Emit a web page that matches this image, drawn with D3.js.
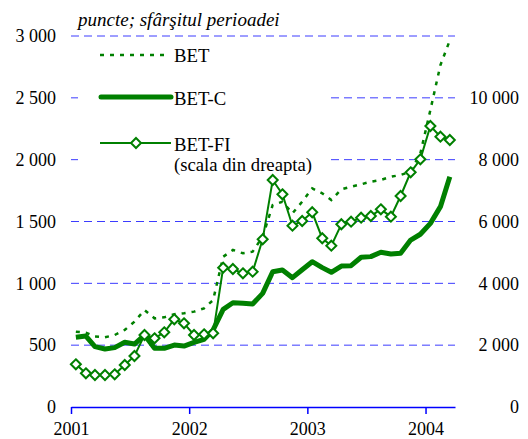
<!DOCTYPE html>
<html>
<head>
<meta charset="utf-8">
<script src="https://cdn.jsdelivr.net/npm/d3@7"></script>
<style>
body { margin: 0; background: #fff; }
</style>
</head>
<body>
<script>
// monthly values, end of period, Jan 2001 - Mar 2004
var betValues = [609, 601, 570, 564, 582, 623, 690, 784, 717, 725, 750, 758,
	771, 798, 865, 1215, 1270, 1243, 1256, 1377, 1633, 1660, 1566, 1660,
	1768, 1728, 1674, 1760, 1781, 1801, 1822, 1836, 1862, 1876, 1903, 2051,
	2402, 2765, 2965];
var betCValues = [564, 574, 488, 469, 480, 523, 509, 582, 475, 475, 501, 493,
	523, 547, 623, 790, 843, 838, 833, 919, 1094, 1108, 1046, 1110,
	1175, 1127, 1089, 1140, 1143, 1211, 1216, 1251, 1237, 1243, 1350, 1397,
	1485, 1620, 1862];
var betFIValues = [1381, 1090, 1035, 1035, 1057, 1358, 1650, 2329, 2222, 2416, 2837, 2707,
	2329, 2351, 2384, 4506, 4463, 4324, 4376, 5424, 7342, 6880, 5864, 6016,
	6298, 5457, 5217, 5910, 5994, 6123, 6178, 6394, 6156, 6825, 7591, 8012,
	9089, 8743, 8636];
var leftTicks = [0, 500, 1000, 1500, 2000, 2500, 3000];
var rightTicks = [0, 2000, 4000, 6000, 8000, 10000];
var yearTicks = [2001, 2002, 2003, 2004];

var width = 528, height = 439;
var green = "#008000";
var gridBlue = "#3c3cff";
var font = "Liberation Serif";

var svg = d3.select("body").append("svg")
	.attr("width", width)
	.attr("height", height)
	.attr("font-family", font);

var months = betValues.map(function (d, i) { return new Date(2001, i, 16); });

var x = d3.scaleTime()
	.domain([new Date(2001, 0, 1), new Date(2004, 3, 1)])
	.range([71, 455]);
var yL = d3.scaleLinear().domain([0, 3000]).range([407, 36]);
var yR = d3.scaleLinear().domain([0, 12000]).range([407, 36]);

// gridlines
svg.append("g").selectAll("line")
	.data(leftTicks.filter(function (d) { return d > 0; }))
	.join("line")
	.attr("x1", 71).attr("x2", 455)
	.attr("y1", function (d) { return yL(d); })
	.attr("y2", function (d) { return yL(d); })
	.attr("stroke", gridBlue)
	.attr("stroke-width", 1)
	.attr("stroke-dasharray", "8,5");

// left axis labels
var fmt = function (d) { return d3.format(",")(d).replace(/,/g, " "); };
svg.append("g")
	.attr("transform", "translate(56,0)")
	.call(d3.axisLeft(yL).tickValues(leftTicks).tickSize(0).tickPadding(0).tickFormat(fmt))
	.attr("font-family", font)
	.attr("font-size", 18)
	.call(function (g) { g.select(".domain").remove(); });

// right axis labels
svg.append("g")
	.attr("transform", "translate(519,0)")
	.call(d3.axisLeft(yR).tickValues(rightTicks).tickSize(0).tickPadding(0).tickFormat(fmt))
	.attr("font-family", font)
	.attr("font-size", 18)
	.call(function (g) { g.select(".domain").remove(); });

// x axis
var xAxis = svg.append("g")
	.attr("transform", "translate(0,407)")
	.call(d3.axisBottom(x)
		.tickValues(yearTicks.map(function (y) { return new Date(y, 0, 1); }))
		.tickFormat(d3.timeFormat("%Y"))
		.tickSize(7).tickPadding(8).tickSizeOuter(0))
	.attr("font-family", font)
	.attr("font-size", 18);
xAxis.select(".domain").attr("stroke", "blue").attr("stroke-width", 1.5);
xAxis.selectAll(".tick line").attr("stroke", "blue").attr("stroke-width", 1.5);

// legend background hides the gridlines behind it
svg.append("rect")
	.attr("x", 78).attr("y", 42)
	.attr("width", 252).attr("height", 136)
	.attr("fill", "#fff");

// series
var lineL = d3.line()
	.x(function (d, i) { return x(months[i]); })
	.y(function (d) { return yL(d); });
var lineR = d3.line()
	.x(function (d, i) { return x(months[i]); })
	.y(function (d) { return yR(d); });

svg.append("path")
	.datum(betValues)
	.attr("fill", "none")
	.attr("stroke", green)
	.attr("stroke-width", 2.5)
	.attr("stroke-dasharray", "4,6")
	.attr("d", lineL);

svg.append("path")
	.datum(betCValues)
	.attr("fill", "none")
	.attr("stroke", green)
	.attr("stroke-width", 5)
	.attr("stroke-linejoin", "round")
	.attr("d", lineL);

svg.append("path")
	.datum(betFIValues)
	.attr("fill", "none")
	.attr("stroke", green)
	.attr("stroke-width", 2)
	.attr("d", lineR);

var diamond = "M0,-5L5,0L0,5L-5,0Z";
svg.append("g").selectAll("path")
	.data(betFIValues)
	.join("path")
	.attr("transform", function (d, i) { return "translate(" + x(months[i]) + "," + yR(d) + ")"; })
	.attr("d", diamond)
	.attr("fill", "#fff")
	.attr("stroke", green)
	.attr("stroke-width", 2);

// legend
var legend = svg.append("g");
legend.append("line")
	.attr("x1", 100).attr("x2", 170).attr("y1", 55).attr("y2", 55)
	.attr("stroke", green).attr("stroke-width", 2.5).attr("stroke-dasharray", "4,6");
legend.append("line")
	.attr("x1", 101).attr("x2", 171).attr("y1", 97).attr("y2", 97)
	.attr("stroke", green).attr("stroke-width", 5).attr("stroke-linecap", "round");
legend.append("line")
	.attr("x1", 100).attr("x2", 171).attr("y1", 143).attr("y2", 143)
	.attr("stroke", green).attr("stroke-width", 2);
legend.append("path")
	.attr("transform", "translate(136,143)")
	.attr("d", diamond)
	.attr("fill", "#fff").attr("stroke", green).attr("stroke-width", 2);

var legendText = [["BET", 62], ["BET-C", 105], ["BET-FI", 151], ["(scala din dreapta)", 171]];
legend.selectAll("text")
	.data(legendText)
	.join("text")
	.attr("x", 174)
	.attr("y", function (d) { return d[1]; })
	.attr("font-family", font)
	.attr("font-size", 18.7)
	.text(function (d) { return d[0]; });

// title
svg.append("text")
	.attr("x", 78).attr("y", 26)
	.attr("font-family", font)
	.attr("font-size", 19)
	.attr("font-style", "italic")
	.text("puncte; sfârşitul perioadei");
</script>
</body>
</html>
